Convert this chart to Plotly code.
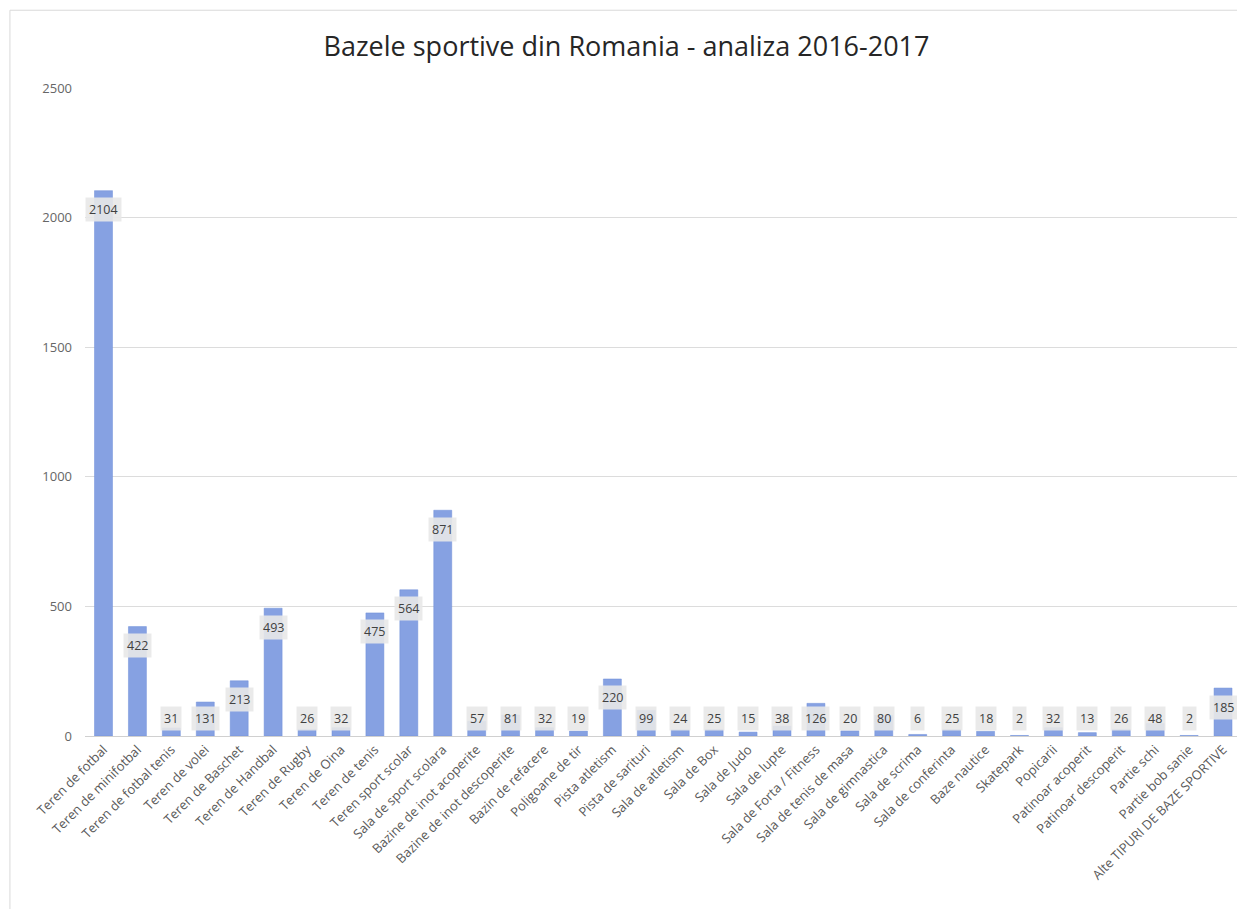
import plotly.graph_objects as go

categories = [
    'Teren de fotbal', 'Teren de minifotbal', 'Teren de fotbal tenis', 'Teren de volei',
    'Teren de Baschet', 'Teren de Handbal', 'Teren de Rugby', 'Teren de Oina',
    'Teren de tenis', 'Teren sport scolar', 'Sala de sport scolara',
    'Bazine de inot acoperite', 'Bazine de inot descoperite', 'Bazin de refacere',
    'Poligoane de tir', 'Pista atletism', 'Pista de sarituri', 'Sala de atletism',
    'Sala de Box', 'Sala de Judo', 'Sala de lupte', 'Sala de Forta / Fitness',
    'Sala de tenis de masa', 'Sala de gimnastica', 'Sala de scrima', 'Sala de conferinta',
    'Baze nautice', 'Skatepark', 'Popicarii', 'Patinoar acoperit', 'Patinoar descoperit',
    'Partie schi', 'Partie bob sanie', 'Alte TIPURI DE BAZE SPORTIVE',
]
values = [
    2104, 422, 31, 131, 213, 493, 26, 32, 475, 564, 871,
    57, 81, 32, 19, 220, 99, 24, 25, 15, 38, 126,
    20, 80, 6, 25, 18, 2, 32, 13, 26, 48, 2, 185,
]

FONT = 'Open Sans'

fig = go.Figure()
fig.add_trace(go.Bar(
    x=categories, y=values,
    marker=dict(color='#86a1e2', line=dict(color='#6f8fd8', width=0.5)),
    hoverinfo='x+y',
))

# data labels: boxed, near the top of each bar, kept above the axis for small bars
label_floor = 140
for c, v in zip(categories, values):
    fig.add_annotation(
        x=c, y=max(v, label_floor), text=str(v), showarrow=False,
        yanchor='middle', yshift=-19,
        font=dict(family=FONT, size=12.5, color='#404040'),
        bgcolor='rgba(232,232,232,0.9)', borderpad=3,
    )

fig.update_layout(
    width=1237, height=901,
    paper_bgcolor='white', plot_bgcolor='white',
    title=dict(text='Bazele sportive din Romania - analiza 2016-2017',
               x=0.5, xanchor='center', y=0.957, yanchor='middle',
               font=dict(family=FONT, size=27, color='#262626')),
    margin=dict(l=77, r=5, t=80, b=173),
    bargap=0.47,
    showlegend=False,
    font=dict(family=FONT),
)
fig.update_yaxes(
    range=[0, 2500], dtick=500, showgrid=True, gridcolor='#dcdcdc', gridwidth=1,
    zeroline=False, showline=False, ticks='', ticklabelstandoff=12,
    tickfont=dict(family=FONT, size=13, color='#666666'),
)
fig.update_xaxes(
    tickangle=-45, showline=True, linecolor='#d0d0d0', ticks='',
    tickfont=dict(family=FONT, size=13, color='#595959'),
)

# outer chart border
fig.add_shape(type='rect', xref='paper', yref='paper',
              x0=-0.065, x1=1.02, y0=-0.3, y1=1.12,
              line=dict(color='#d9d9d9', width=1), layer='below')

fig.write_html('out.html')
